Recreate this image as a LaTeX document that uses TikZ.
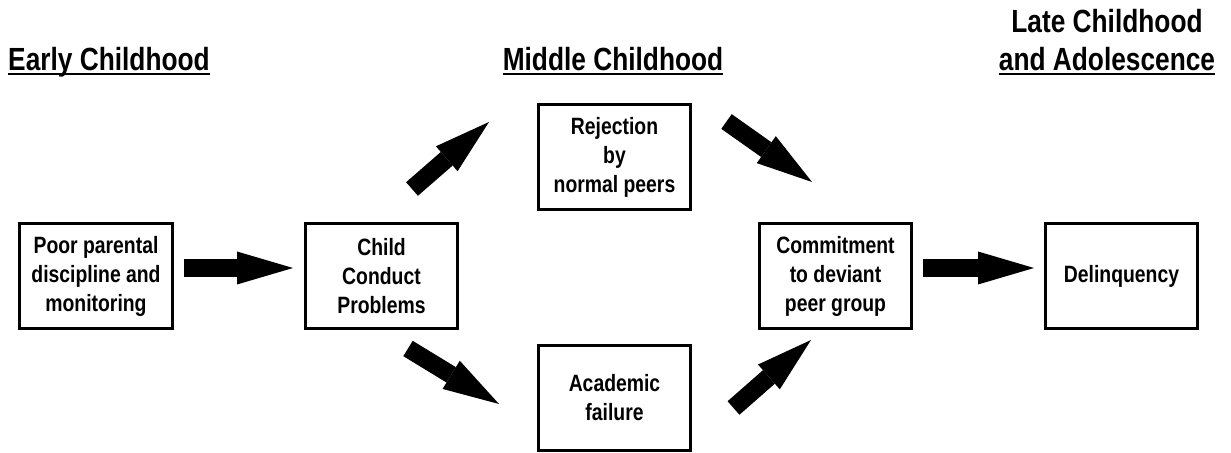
\documentclass[tikz,border=0pt]{standalone}
\usepackage{fontspec}
\setmainfont{Liberation Sans}[FakeStretch=0.82]
\usetikzlibrary{arrows.meta}
\newcommand\boxfont{\fontsize{16.8}{20.6}\selectfont\bfseries}
\newcommand\headfont{\fontsize{22.8}{27.7}\selectfont\bfseries}
\newcommand\ulhead[1]{\setbox0\hbox{#1}\rlap{\rule[-0.1cm]{\wd0}{0.05cm}}\box0}

\begin{document}
\begin{tikzpicture}[
    box/.style={draw, line width=0.075cm, minimum width=3.8cm, minimum height=2.625cm, align=center, inner sep=1pt, font=\boxfont},
    heading/.style={anchor=base, align=center, inner sep=0pt, font=\headfont},
    fatarrow/.style={-{Triangle[length=1.4cm, width=0.825cm, line width=0pt]}, line width=0.45cm},
]
\useasboundingbox (0,0) rectangle (30.775,11.325);

% Early childhood
\node[heading] (early) at (2.725,9.55) {\ulhead{Early Childhood}};
\node[box] (poor) at (2.4,4.425) {Poor parental\\discipline and\\monitoring};

% Middle childhood
\node[heading] (middle) at (15.325,9.55) {\ulhead{Middle Childhood}};
\node[box] (conduct) at (9.5375,4.425) {Child\\Conduct\\Problems};
\node[box] (reject) at (15.3625,7.4) {Rejection\\by\\normal peers};
\node[box] (academic) at (15.3625,1.375) {Academic\\failure};
\node[box] (commit) at (20.8875,4.425) {Commitment\\to deviant\\peer group};

% Late childhood and adolescence
\node[heading] (late) at (27.675,9.55) {Late Childhood\\\ulhead{and Adolescence}};
\node[box] (delinq) at (28.0375,4.425) {Delinquency};

% Arrow ends between the boxes
\coordinate (c2rS) at (10.3,6.6);
\coordinate (c2rE) at (12.225,8.275);
\coordinate (r2dS) at (18.1625,8.2875);
\coordinate (r2dE) at (20.3,6.775);
\coordinate (c2aS) at (10.2,2.6125);
\coordinate (c2aE) at (12.475,1.225);
\coordinate (a2dS) at (18.3375,1.125);
\coordinate (a2dE) at (20.275,2.825);

% Paths
\draw[fatarrow, shorten <=0.25cm, shorten >=0.275cm] ([yshift=0.2cm]poor.east) -- ([yshift=0.2cm]conduct.west);
\draw[fatarrow] (c2rS) -- (c2rE);
\draw[fatarrow] (c2aS) -- (c2aE);
\draw[fatarrow] (r2dS) -- (r2dE);
\draw[fatarrow] (a2dS) -- (a2dE);
\draw[fatarrow, shorten <=0.25cm, shorten >=0.25cm] ([yshift=0.2cm]commit.east) -- ([yshift=0.2cm]delinq.west);

\end{tikzpicture}
\end{document}
